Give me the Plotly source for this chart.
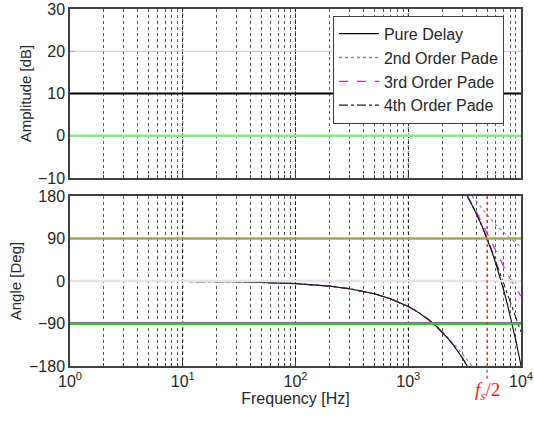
import plotly.graph_objects as go

# Magnitude response (all-pass: 0 dB for the delay and every Pade approximant)
freq_mag = [1, 10, 100, 1000, 10000]
mag_pure = [0, 0, 0, 0, 0]
mag_pade2 = [0, 0, 0, 0, 0]
mag_pade3 = [0, 0, 0, 0, 0]
mag_pade4 = [0, 0, 0, 0, 0]

# Wrapped phase responses (deg); None marks the wrap from -180 to +180
f_pure = [1, 10, 30, 100, 200, 300, 500, 700, 1000, 1250, 1500, 1750, 2000, 2250, 2500, 2750, 3000, 3333,
          None, 3333, 3500, 4000, 4500, 5000, 5500, 6000, 6500, 7000, 7500, 8000, 8500, 9000, 9500, 10000]
ph_pure = [-0.05, -0.5, -1.6, -5.4, -10.8, -16.2, -27, -37.8, -54, -67.5, -81, -94.5, -108, -121.5, -135, -148.5, -162, -180,
           None, 180, 171, 144, 117, 90, 63, 36, 9, -18, -45, -72, -99, -126, -153, -180]

f_pade2 = [1, 10, 30, 100, 200, 300, 500, 700, 1000, 1250, 1500, 1750, 2000, 2250, 2500, 2750, 3000, 3250, 3500, 3675,
           None, 3675, 4000, 4500, 5000, 5500, 6000, 6500, 7000, 7500, 8000, 8500, 9000, 9500, 10000]
ph_pade2 = [-0.05, -0.5, -1.6, -5.4, -10.8, -16.2, -27, -37.8, -53.9, -67.3, -80.6, -93.7, -106.5, -119.0, -131.0, -142.5, -153.4, -163.8, -173.5, -180,
            None, 180, 168.9, 153.5, 140.3, 128.9, 119.0, 110.4, 102.9, 96.3, 90.5, 85.3, 80.7, 76.5, 72.7]

f_pade3 = [1, 10, 30, 100, 200, 300, 500, 700, 1000, 1250, 1500, 1750, 2000, 2250, 2500, 2750, 3000, 3300, 3355,
           None, 3355, 3400, 3500, 4000, 4500, 5000, 5500, 6000, 6500, 7000, 7500, 8000, 8500, 9000, 9500, 10000]
ph_pade3 = [-0.05, -0.5, -1.6, -5.4, -10.8, -16.2, -27, -37.8, -54.0, -67.5, -81.0, -94.5, -108.0, -121.4, -134.8, -148.1, -161.4, -177.1, -180,
            None, 180, 177.7, 172.5, 147.4, 123.4, 101.1, 80.6, 62.0, 45.2, 30.3, 16.8, 4.8, -5.9, -15.5, -24.2, -32.1]

f_pade4 = [1, 10, 30, 100, 200, 300, 500, 700, 1000, 1250, 1500, 1750, 2000, 2250, 2500, 2750, 3000, 3300, 3334,
           None, 3334, 3400, 4000, 4500, 5000, 5500, 6000, 6500, 7000, 7500, 8000, 8500, 9000, 9500, 10000]
ph_pade4 = [-0.05, -0.5, -1.6, -5.4, -10.8, -16.2, -27, -37.8, -54.0, -67.5, -81.0, -94.5, -108.0, -121.5, -135.0, -148.5, -162.0, -178.2, -180,
            None, 180, 176.5, 144.2, 117.6, 91.3, 65.6, 40.7, 17.0, -5.4, -26.3, -45.6, -63.4, -79.6, -94.4, -107.8]

names = ["Pure Delay", "2nd Order Pade", "3rd Order Pade", "4th Order Pade"]
mag_series = [mag_pure, mag_pade2, mag_pade3, mag_pade4]
phase_series = [(f_pure, ph_pure), (f_pade2, ph_pade2), (f_pade3, ph_pade3), (f_pade4, ph_pade4)]
colors = ["#000000", "#8080a8", "#ff00ff", "#202020"]
dashes = ["solid", "dot", "dash", "dashdot"]

mag_ticks = [-10, 0, 10, 20, 30]
phase_ticks = [-180, -90, 0, 90, 180]
freq_ticks = [1, 10, 100, 1000, 10000]
freq_ticktext = ["10<sup>0</sup>", "10<sup>1</sup>", "10<sup>2</sup>", "10<sup>3</sup>", "10<sup>4</sup>"]
fs_half = 5000

FONT = "Liberation Sans, Arial, sans-serif"
TXT = "#262626"
GRID = "rgba(20,20,20,0.7)"
GRID_DASH = "3px,3px"

fig = go.Figure()
for name, mag, col, dsh in zip(names, mag_series, colors, dashes):
    fig.add_trace(go.Scatter(x=freq_mag, y=mag, mode="lines", name=name,
                             line=dict(color=col, width=1.3, dash=dsh),
                             xaxis="x", yaxis="y"))
for name, (f, ph), col, dsh in zip(names, phase_series, colors, dashes):
    fig.add_trace(go.Scatter(x=f, y=ph, mode="lines", name=name, showlegend=False,
                             connectgaps=False,
                             line=dict(color=col, width=1.1, dash=dsh),
                             xaxis="x2", yaxis="y2"))

xgrid = dict(type="log", range=[0, 4], showgrid=True, gridcolor=GRID,
             griddash=GRID_DASH, gridwidth=1, automargin=False,
             minor=dict(dtick="D1", showgrid=True, gridcolor=GRID,
                        griddash=GRID_DASH, gridwidth=1, ticks="inside", ticklen=3,
                        tickcolor="#404040"),
             showline=True, mirror=True, linecolor="#404040", linewidth=1.5,
             ticks="inside", ticklen=5, tickcolor="#404040",
             tickvals=freq_ticks, ticktext=freq_ticktext, zeroline=False)

yframe = dict(showgrid=False, zeroline=False, automargin=False,
              showline=True, mirror=True, linecolor="#404040", linewidth=1.5,
              ticks="inside", ticklen=5, tickcolor="#404040",
              tickfont=dict(family=FONT, size=16, color=TXT))

fig.update_layout(
    width=534, height=423,
    margin=dict(l=70, r=13, t=9, b=57),
    paper_bgcolor="white", plot_bgcolor="white",
    font=dict(family=FONT, color=TXT, size=16),
    showlegend=True,
    legend=dict(x=0.583, y=0.981, xanchor="left", yanchor="top",
                bgcolor="white", bordercolor="#404040", borderwidth=1,
                font=dict(family=FONT, size=16, color=TXT), itemwidth=40,
                tracegroupgap=0),
    xaxis=dict(xgrid, anchor="y", showticklabels=False, matches="x2"),
    xaxis2=dict(xgrid, anchor="y2", showticklabels=True,
                tickfont=dict(family=FONT, size=16, color=TXT),
                title=dict(text="Frequency [Hz]", font=dict(family=FONT, size=16, color=TXT),
                           standoff=4)),
    yaxis=dict(yframe, domain=[0.5266, 1], range=[-10, 30], tickvals=mag_ticks,
               title=dict(text="Amplitude [dB]", font=dict(family=FONT, size=15, color=TXT),
                          standoff=3)),
    yaxis2=dict(yframe, domain=[0, 0.476], range=[-180, 180], tickvals=phase_ticks,
                title=dict(text="Angle [Deg]", font=dict(family=FONT, size=15, color=TXT),
                           standoff=4)),
)

# decade grid lines
for xr, yr in (("x", "y domain"), ("x2", "y2 domain")):
    for fv in freq_ticks[1:-1]:
        fig.add_shape(type="line", xref=xr, yref=yr, x0=fv, x1=fv, y0=0, y1=1,
                      line=dict(color=GRID, width=1, dash=GRID_DASH), layer="below")

# horizontal reference lines at the tick levels
hlines = [
    ("y", 20, "#c8c8c8", 1),
    ("y", 10, "#000000", 2),
    ("y", 0, "#88e888", 2.5),
    ("y2", 90, "#a4a458", 2.5),
    ("y2", 0, "#e4e4e4", 2.5),
    ("y2", -90, "#707070", 3),
    ("y2", -90.6, "#22ee22", 1.2),
]
for yref, yv, col, w in hlines:
    xr = "x domain" if yref == "y" else "x2 domain"
    fig.add_shape(type="line", xref=xr, yref=yref, x0=0, x1=1, y0=yv, y1=yv,
                  line=dict(color=col, width=w), layer="above")

# Nyquist marker
fig.add_shape(type="line", xref="x2", yref="y2 domain", x0=fs_half, x1=fs_half, y0=-0.075, y1=1,
              line=dict(color="#ff3030", width=1.3, dash="dot"), layer="above")
fig.add_annotation(xref="x2", yref="y2 domain", x=3.699, y=-0.065, yanchor="top", xanchor="center",
                   text="<i>f<sub>s</sub></i>/2", showarrow=False,
                   font=dict(family="Liberation Serif, DejaVu Serif, serif", size=19, color="#ff2020"))

fig.write_html("out.html")
